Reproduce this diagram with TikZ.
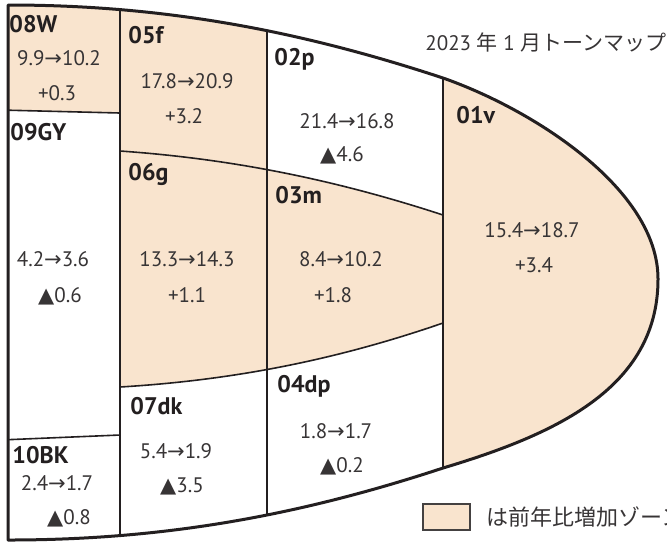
\documentclass[tikz,border=0pt]{standalone}
\usepackage{fontspec}
\setmainfont{PT Sans}
\newfontfamily\jpfnt{Noto Sans CJK JP}
\newfontfamily\symfnt{DejaVu Sans}
\definecolor{zonefill}{RGB}{249,228,206}
\definecolor{ink}{RGB}{35,31,32}
\definecolor{valink}{RGB}{55,52,53}
\newcommand{\zarr}{{\symfnt →}}
\newcommand{\ztri}{{\symfnt ▲}}
\newcommand{\mapoutline}{(8,5) .. controls (158,5) and (293,28.5) .. (443,78) .. controls (533,109.5) and (658,189) .. (658,279) .. controls (658,389) and (553,435) .. (443,468) .. controls (293,517.5) and (158,540) .. (8,540) -- cycle}
\tikzset{
  zonelabel/.style={anchor=base west, inner sep=0pt, text=ink, font=\fontsize{12}{14}\selectfont\bfseries},
  zoneval/.style={anchor=base, inner sep=0pt, text=valink, font=\fontsize{10.5}{12}\selectfont},
  jptext/.style={anchor=base west, inner sep=0pt, text=valink, font=\fontsize{10.5}{12}\selectfont}
}
\begin{document}
\begin{tikzpicture}[x=0.5pt, y=-0.5pt]
  \useasboundingbox (0,0) rectangle (667,542);
  \begin{scope}
    \clip \mapoutline;
    \fill[zonefill] (0,0) -- (120,0) -- (120,113) -- (0,110) -- cycle;
    \fill[zonefill] (120,0) rectangle (267,175);
    \fill[zonefill] (120,151) .. controls (230,158.7) and (333,179) .. (443,215) -- (443,323) .. controls (333,361) and (230,380.4) .. (120,387) -- cycle;
    \fill[zonefill] (443,0) rectangle (670,545);
    \draw[ink, line width=0.8pt] (120,0) -- (120,545) (267,0) -- (267,545) (443,0) -- (443,545);
    \draw[ink, line width=0.8pt] (0,110) -- (120,113) (0,440) -- (120,435);
    \draw[ink, line width=0.8pt] (120,151) .. controls (230,158.7) and (333,179) .. (443,215);
    \draw[ink, line width=0.8pt] (120,387) .. controls (230,380.4) and (333,361) .. (443,323);
  \end{scope}
  \draw[ink, line width=1.5pt, line join=round] \mapoutline;
  \foreach \z/\lx/\ly/\vx/\vy/\dx/\dy/\v/\d in {
      08W/9/32/59/65/57/100/{9.9\zarr10.2}/{+0.3},
      05f/128/43/187/88/184/123/{17.8\zarr20.9}/{+3.2},
      09GY/10/140/53/266/60/302/{4.2\zarr3.6}/{\ztri0.6},
      06g/128/180/187/266/187/302/{13.3\zarr14.3}/{+1.1},
      02p/274/65/347/128/342/161/{21.4\zarr16.8}/{\ztri4.6},
      03m/275/203/341/266/333/302/{8.4\zarr10.2}/{+1.8},
      01v/456/123/532/237/534/272/{15.4\zarr18.7}/{+3.4},
      07dk/130/414/176/458/182/492/{5.4\zarr1.9}/{\ztri3.5},
      04dp/277/392/336/438/342/472/{1.8\zarr1.7}/{\ztri0.2},
      10BK/12/463/57/490/69/524/{2.4\zarr1.7}/{\ztri0.8}}
  {
    \node[zonelabel] (lab\z) at (\lx,\ly) {\z};
    \node[zoneval] (val\z) at (\vx,\vy) {\v};
    \node[zoneval] (dif\z) at (\dx,\dy) {\d};
  }
  \node[jptext] (title) at (425,50) {2023 {\jpfnt 年} 1 {\jpfnt 月トーンマップ}};
  \filldraw[fill=zonefill, draw=ink!85, line width=0.7pt] (423,504) rectangle (470,530);
  \node[jptext, font=\fontsize{11}{13}\selectfont] (legend) at (486,525) {\jpfnt は前年比増加ゾーン};
\end{tikzpicture}
\end{document}
